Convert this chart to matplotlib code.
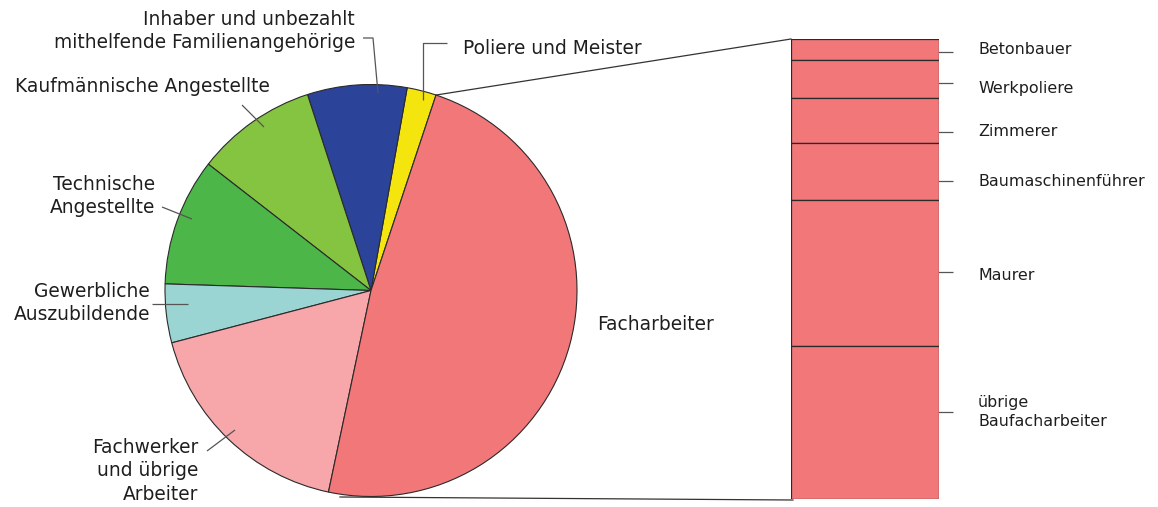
import numpy as np
import matplotlib
matplotlib.use("Agg")
import matplotlib.pyplot as plt

plt.rcParams['font.family'] = ['DejaVu Sans']

# ---- data ----
pie_labels = ["Poliere und Meister",
              "Inhaber und unbezahlt\nmithelfende Familienangehörige",
              "Kaufmännische Angestellte",
              "Technische\nAngestellte",
              "Gewerbliche\nAuszubildende",
              "Fachwerker\nund übrige\nArbeiter",
              "Facharbeiter"]
pie_values = [2.3, 7.8, 9.5, 10.0, 4.6, 17.6, 48.2]
pie_colors = ["#F5E50F", "#2B4499", "#85C441", "#4CB648", "#9BD5D3", "#F7A6A9", "#F27779"]

bar_labels = ["Betonbauer", "Werkpoliere", "Zimmerer", "Baumaschinenführer",
              "Maurer", "übrige\nBaufacharbeiter"]
bar_values = [4.6, 8.3, 9.8, 12.4, 31.6, 33.3]
bar_color = "#F27779"

W, H = 1158, 507
fig = plt.figure(figsize=(W / 100, H / 100), dpi=100)
ax = fig.add_axes([0, 0, 1, 1])

def P(x, y):
    return x, H - y

cx, cy = P(371, 290.5)
R = 206
start = 71.6
ax.pie(pie_values, colors=pie_colors, startangle=start, counterclock=True,
       center=(cx, cy), radius=R, frame=True,
       wedgeprops=dict(edgecolor="#2a2a2a", linewidth=0.8))
ax.set_xlim(0, W)
ax.set_ylim(0, H)
ax.set_aspect('equal')
ax.axis('off')

fs = 13.4
tc = "#1e1e1e"
lc = "#555555"
lw = 0.9

def line(pts, color=lc):
    xs = [p[0] for p in pts]
    ys = [H - p[1] for p in pts]
    ax.plot(xs, ys, color=color, lw=lw, solid_capstyle='butt')

def text(x, y, s, ha='left', size=fs):
    ax.text(x, H - y, s, ha=ha, va='center', fontsize=size, color=tc,
            linespacing=1.3)

# pie labels
text(355, 31, pie_labels[1], ha='right')
line([(363, 38), (373, 38), (378, 93)])
text(463, 49, pie_labels[0])
line([(447, 43), (423, 43), (423, 100)])
text(15, 87, pie_labels[2])
line([(242, 105), (264, 127)])
text(155, 196, pie_labels[3], ha='right')
line([(162, 207), (192, 219)])
text(150, 303, pie_labels[4], ha='right')
line([(152, 304), (188, 304)])
text(198, 471, pie_labels[5], ha='right')
line([(207, 451), (235, 430)])
text(597, 325, pie_labels[6])

# bar of Facharbeiter
bx0, bx1 = 791, 939
by_top, by_bot = 39, 499
bax = fig.add_axes([bx0 / W, (H - by_bot) / H, (bx1 - bx0) / W, (by_bot - by_top) / H])
bottoms = 100 - np.cumsum(bar_values)
bax.bar([0] * len(bar_values), bar_values, bottom=bottoms, width=1.0,
        color=bar_color, edgecolor="#2a2a2a", linewidth=0.9)
bax.set_xlim(-0.5, 0.5)
bax.set_ylim(0, 100)
bax.axis('off')

# bar labels
bar_label_y = [50, 88, 131, 181, 275, 412]
bar_line_y = [52, 83, 132, 181, 272, 412]
for lab, ty, ly in zip(bar_labels, bar_label_y, bar_line_y):
    text(978, ty, lab, size=11.4)
    line([(931, ly), (953, ly)])

# connecting lines
a = np.deg2rad(start)
px, py = cx + R * np.cos(a), cy + R * np.sin(a)
ax.plot([px, bx0], [py, H - by_top], color="#333333", lw=0.9)
ax.plot([340, bx0 + 2], [H - 497, H - by_bot - 1], color="#333333", lw=0.9)

fig.savefig("out.png", dpi=100)
